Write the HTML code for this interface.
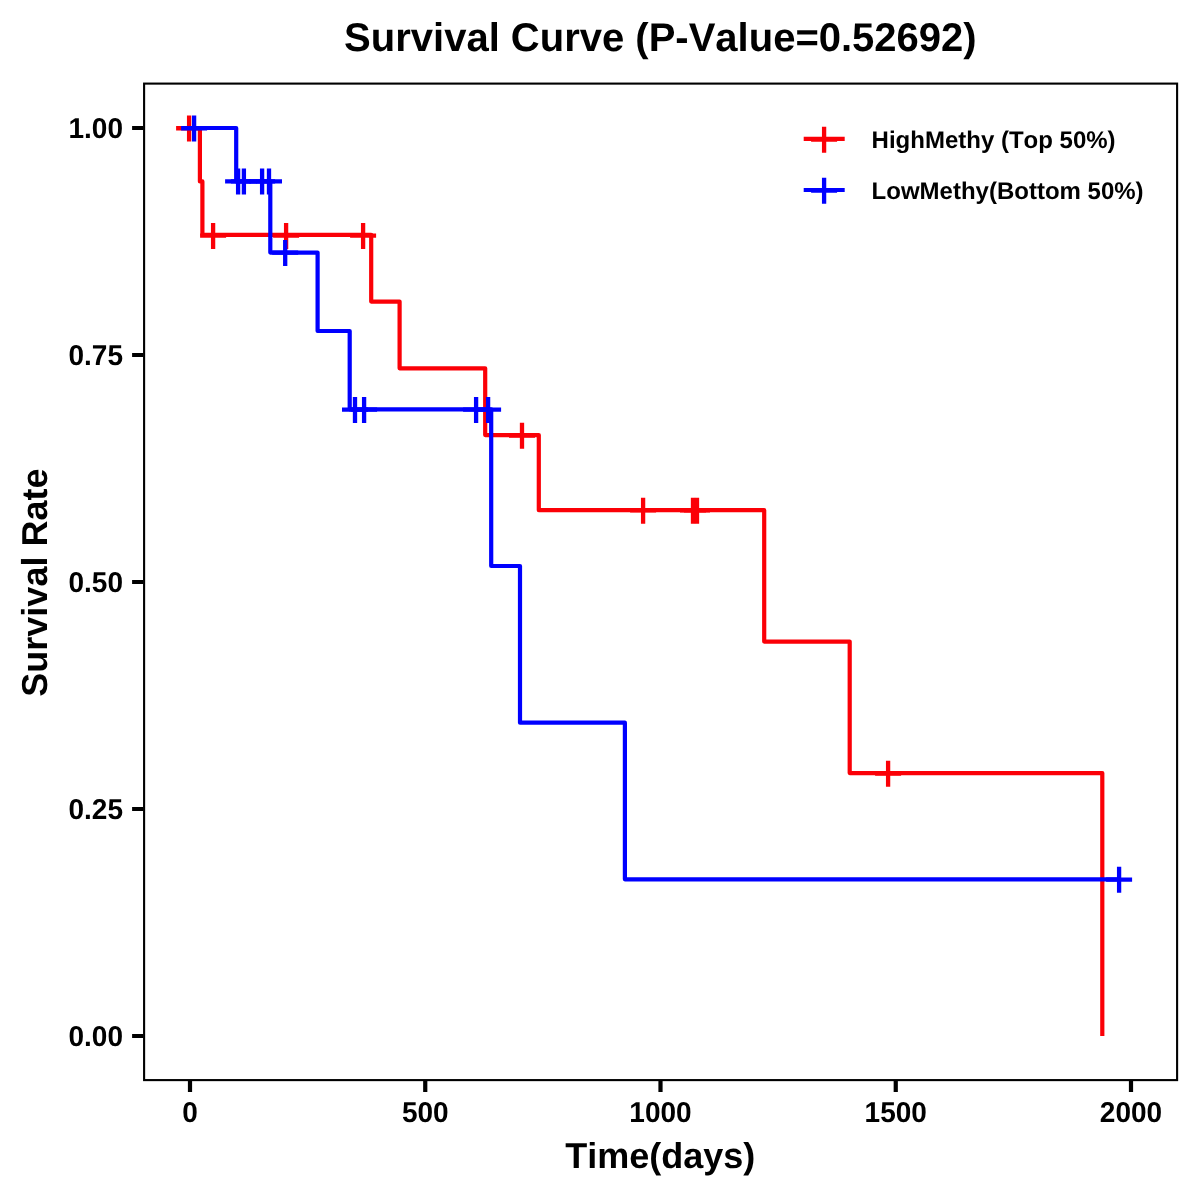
<!DOCTYPE html>
<html lang="en">
<head>
<meta charset="utf-8">
<title>Survival Curve (P-Value=0.52692)</title>
<style>
html,body{margin:0;padding:0;background:#fff;}
body{width:1200px;height:1200px;overflow:hidden;}
svg{display:block;}
text{font-family:"Liberation Sans",Arial,Helvetica,sans-serif;font-weight:bold;fill:#000;font-kerning:none;font-variant-ligatures:none;text-rendering:geometricPrecision;}
.title{font-size:40px;}
.axt{font-size:36px;}
.tick{font-size:28px;}
.leg{font-size:24px;}
.curve{fill:none;stroke-width:4.2;stroke-linejoin:round;stroke-linecap:butt;}
.cross{fill:none;stroke-width:4.3;stroke-linecap:butt;}
.red{stroke:#fb0007;}
.blue{stroke:#0000ff;}
</style>
</head>
<body>
<svg width="1200" height="1200" viewBox="0 0 1200 1200">
<defs>
<path id="cx" d="M-13 -0.25H13M0 -13V13"/>
</defs>
<rect x="0" y="0" width="1200" height="1200" fill="#ffffff"/>

<!-- title -->
<text class="title" x="660.4" y="50.9" text-anchor="middle">Survival Curve (P-Value=0.52692)</text>

<!-- curves -->
<path class="curve red" d="M189.1 128H199.9V181.4H202.4V234.8H371.2V301.6H399.6V368.35H485.2V435.1H538.8V510.2H764.2V641.6H849.7V773.1H1102.3V1036"/>
<path class="curve blue" d="M194.1 128H236.2V181.4H270.3V252.6H317.6V331H349.7V409.3H491.2V566H520V722.65H624.9V879.3H1119.1"/>

<!-- censor marks -->
<g class="cross red">
<use href="#cx" x="189.1" y="128.5"/>
<use href="#cx" x="213.1" y="235.9"/>
<use href="#cx" x="286.1" y="235.9"/>
<use href="#cx" x="363.1" y="235.9"/>
<use href="#cx" x="522" y="435.8"/>
<use href="#cx" x="643.1" y="510.7"/>
<use href="#cx" x="693" y="510.7"/>
<use href="#cx" x="697" y="510.7"/>
<use href="#cx" x="888.1" y="773.8"/>
</g>
<g class="cross blue">
<use href="#cx" x="194.1" y="128.5"/>
<use href="#cx" x="238.1" y="181.6"/>
<use href="#cx" x="243.9" y="181.6"/>
<use href="#cx" x="262.1" y="181.6"/>
<use href="#cx" x="269" y="181.6"/>
<use href="#cx" x="285.2" y="252.9"/>
<use href="#cx" x="355" y="409.9"/>
<use href="#cx" x="364.1" y="409.9"/>
<use href="#cx" x="476.1" y="409.9"/>
<use href="#cx" x="488.1" y="409.9"/>
<use href="#cx" x="1119.1" y="879.8"/>
</g>

<!-- panel border -->
<rect x="144.1" y="83.6" width="1033" height="996.5" fill="none" stroke="#000" stroke-width="2.1"/>

<!-- ticks -->
<g stroke="#000" stroke-width="4.2" fill="none">
<path d="M132.1 128H143.2M132.1 355H143.2M132.1 582H143.2M132.1 809H143.2M132.1 1036H143.2"/>
<path d="M190 1081V1092M425.25 1081V1092M660.5 1081V1092M895.75 1081V1092M1131 1081V1092"/>
</g>

<!-- y tick labels -->
<g class="tick" text-anchor="end">
<text transform="translate(123 137.9) scale(1 1.025)">1.00</text>
<text transform="translate(123 364.9) scale(1 1.025)">0.75</text>
<text transform="translate(123 591.9) scale(1 1.025)">0.50</text>
<text transform="translate(123 818.9) scale(1 1.025)">0.25</text>
<text transform="translate(123 1045.9) scale(1 1.025)">0.00</text>
</g>

<!-- x tick labels -->
<g class="tick" text-anchor="middle">
<text transform="translate(190 1121.6) scale(1 1.025)">0</text>
<text transform="translate(425.25 1121.6) scale(1 1.025)">500</text>
<text transform="translate(660.5 1121.6) scale(1 1.025)">1000</text>
<text transform="translate(895.75 1121.6) scale(1 1.025)">1500</text>
<text transform="translate(1131 1121.6) scale(1 1.025)">2000</text>
</g>

<!-- axis titles -->
<text class="axt" x="660.3" y="1167.8" text-anchor="middle">Time(days)</text>
<text class="axt" transform="translate(47.2 582.6) rotate(-90)" text-anchor="middle">Survival Rate</text>

<!-- legend -->
<g>
<path class="red" d="M803.7 138.8H844.7" fill="none" stroke-width="4.2"/>
<use class="cross red" href="#cx" x="824.1" y="139.75"/>
<path class="blue" d="M803.7 190H844.7" fill="none" stroke-width="4.2"/>
<use class="cross blue" href="#cx" x="824.1" y="190.8"/>
<text class="leg" x="871.6" y="148.3">HighMethy (Top 50%)</text>
<text class="leg" x="871.6" y="199.2">LowMethy(Bottom 50%)</text>
</g>
</svg>
</body>
</html>
